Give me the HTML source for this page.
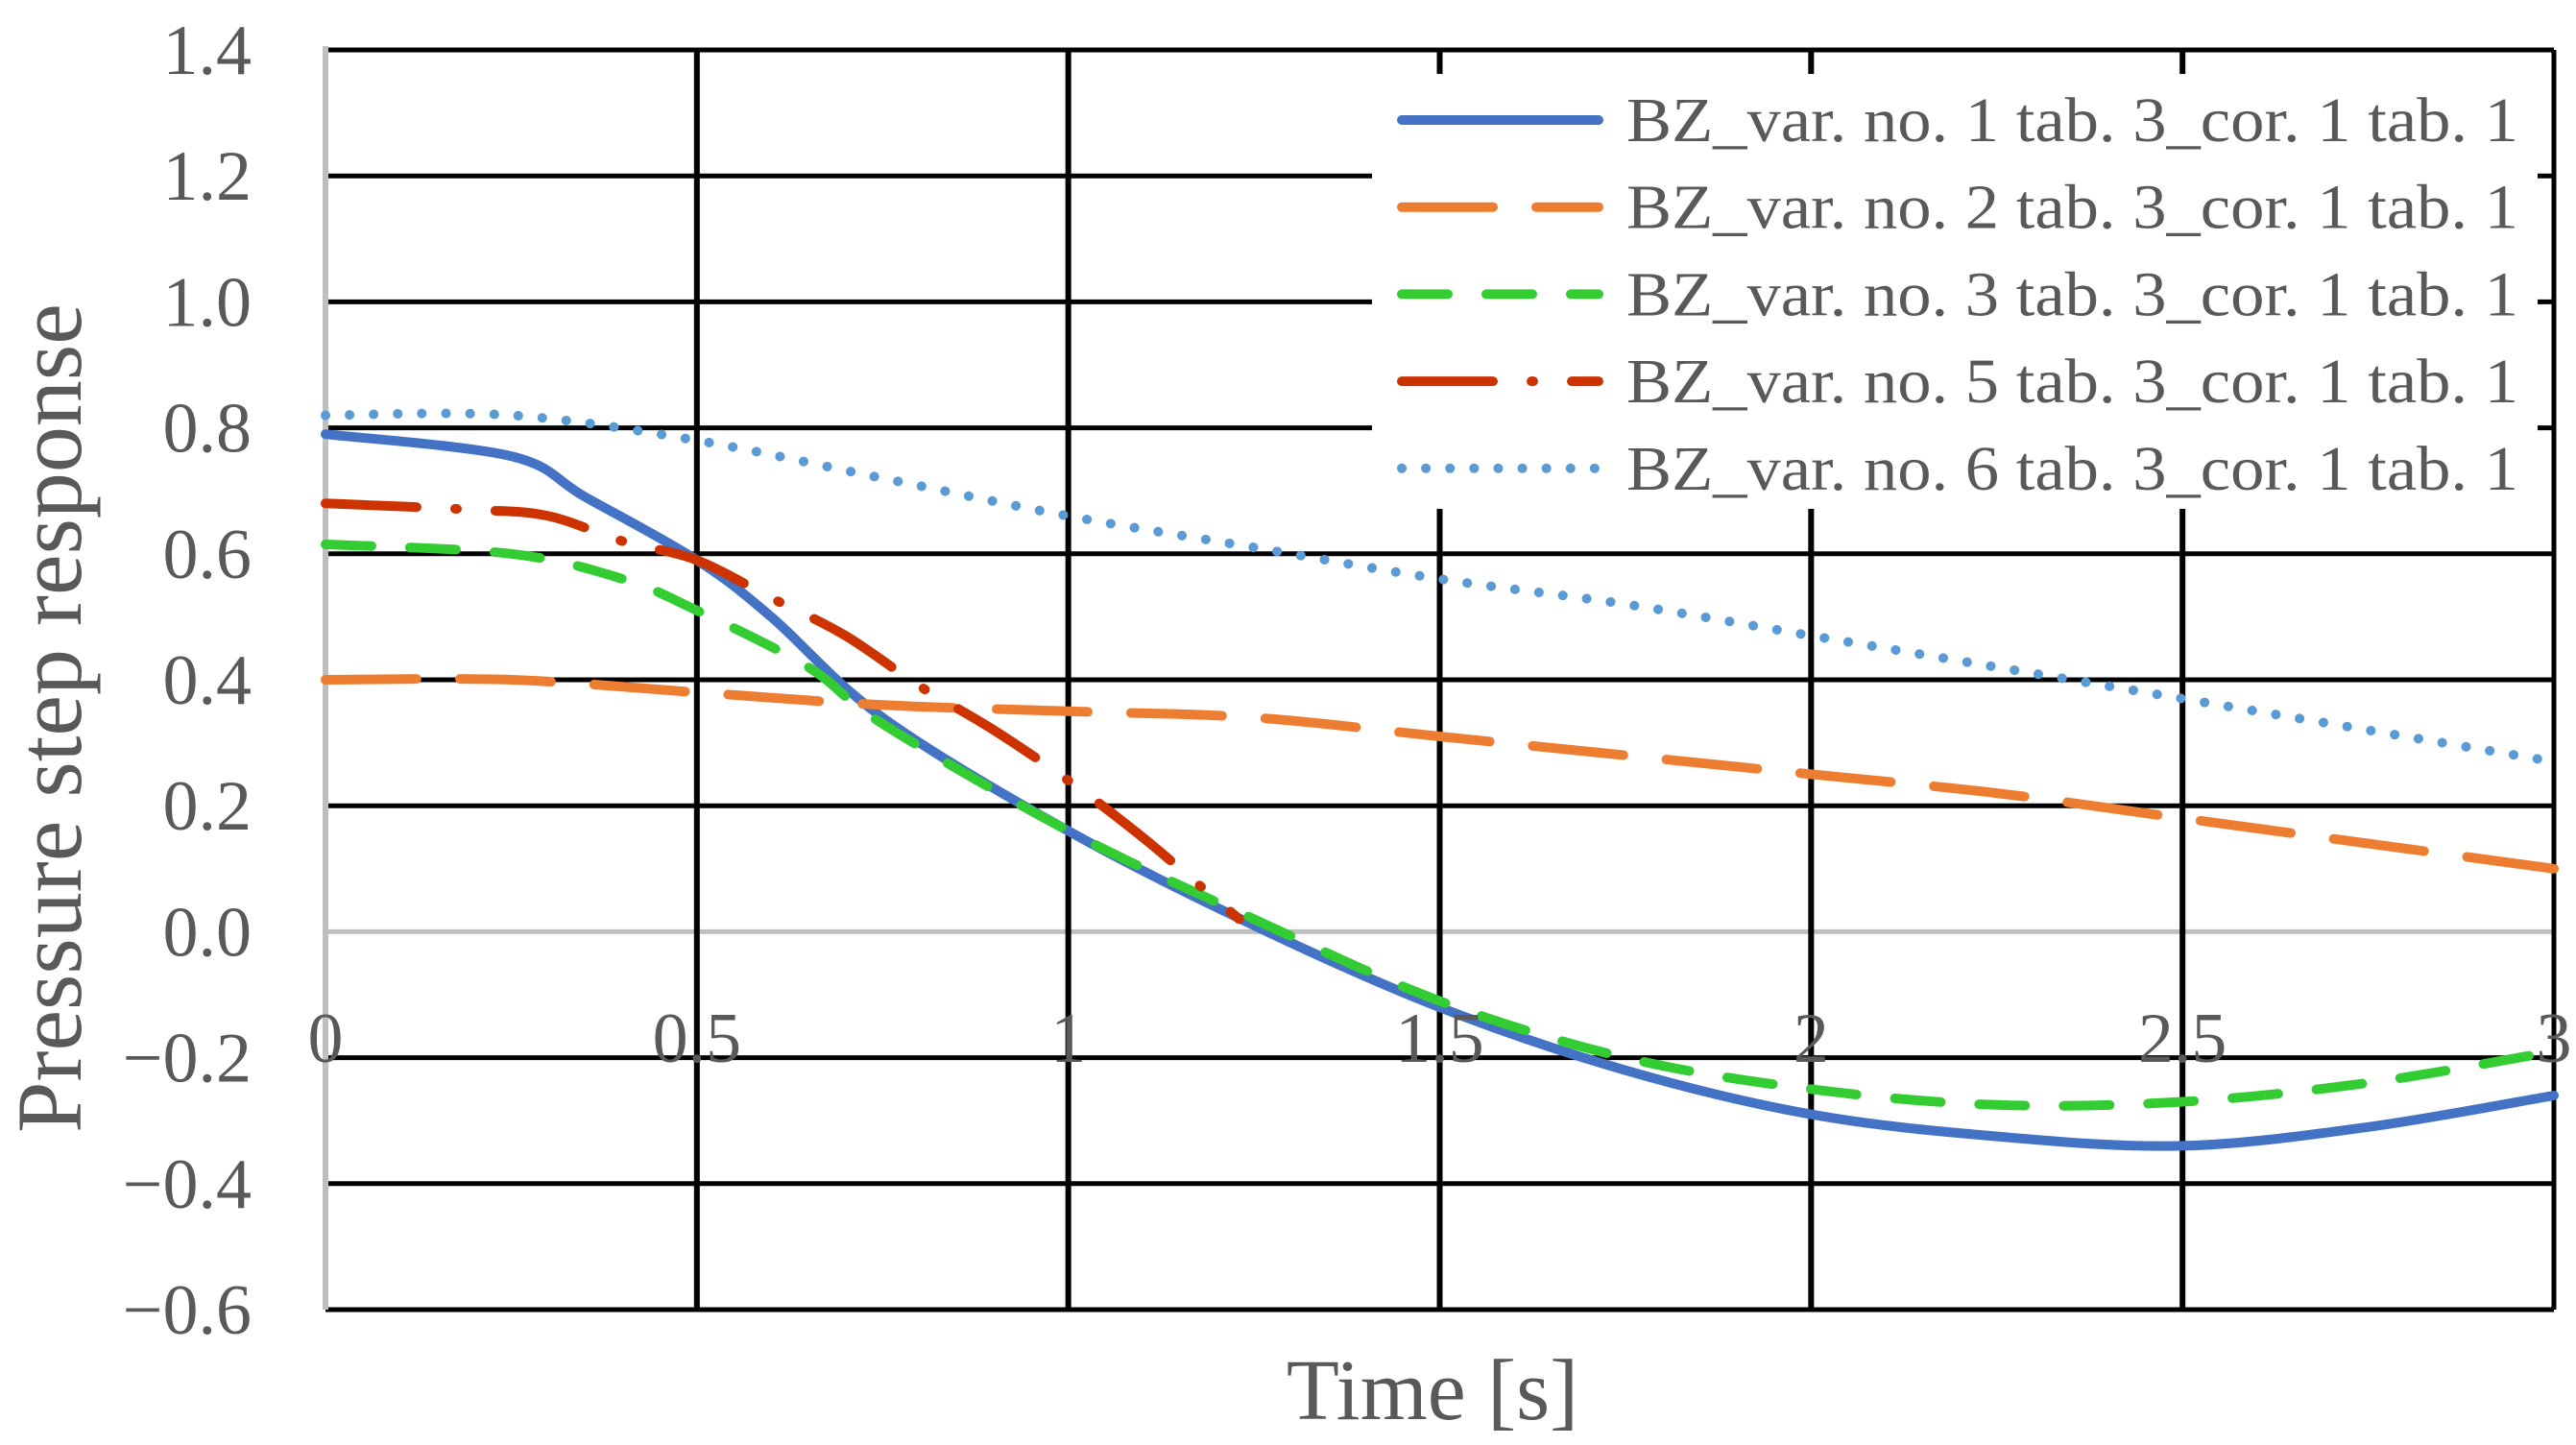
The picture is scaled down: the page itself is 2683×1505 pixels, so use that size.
<!DOCTYPE html>
<html><head><meta charset="utf-8"><style>
html,body{margin:0;padding:0;background:#fff}
svg{display:block}
text{font-family:"Liberation Serif",serif;fill:#595959}
</style></head><body>
<svg id="chart" width="2683" height="1505" viewBox="0 0 2683 1505" xmlns="http://www.w3.org/2000/svg">
<g id="grid"></g>
<g id="series"></g>
<g id="ticks"></g>
<text x="1492" y="1478" font-size="90" text-anchor="middle">Time [s]</text>
<text transform="translate(84,748) rotate(-90)" font-size="96" text-anchor="middle">Pressure step response</text>
<g id="legend"></g>
</svg>
<script>
const xTicks=[0,0.5,1,1.5,2,2.5,3];
const xTickLabels=["0","0.5","1","1.5","2","2.5","3"];
const yTicks=[1.4,1.2,1.0,0.8,0.6,0.4,0.2,0.0,-0.2,-0.4,-0.6];
const yTickLabels=["1.4","1.2","1.0","0.8","0.6","0.4","0.2","0.0","\u22120.2","\u22120.4","\u22120.6"];
const seriesNames=["BZ_var. no. 1 tab. 3_cor. 1 tab. 1","BZ_var. no. 2 tab. 3_cor. 1 tab. 1","BZ_var. no. 3 tab. 3_cor. 1 tab. 1","BZ_var. no. 5 tab. 3_cor. 1 tab. 1","BZ_var. no. 6 tab. 3_cor. 1 tab. 1"];
const t1=[0,0.25,0.35,0.5,0.6,0.75,1,1.25,1.5,1.75,2,2.25,2.5,2.75,3];
const v1=[0.79,0.755,0.69,0.59,0.50,0.34,0.16,0.01,-0.12,-0.22,-0.29,-0.325,-0.34,-0.31,-0.26];
const t2=[0,0.25,0.5,0.75,1,1.25,1.5,1.75,2,2.25,2.5,2.75,3];
const v2=[0.40,0.40,0.38,0.36,0.35,0.34,0.31,0.28,0.25,0.22,0.18,0.14,0.10];
const t3=[0,0.25,0.4,0.5,0.65,0.75,1,1.25,1.5,1.75,2,2.25,2.5,2.75,3];
const v3=[0.615,0.60,0.56,0.51,0.42,0.33,0.16,0.02,-0.11,-0.20,-0.25,-0.275,-0.27,-0.24,-0.19];
const t5=[0,0.2,0.3,0.4,0.5,0.6,0.7,0.8,0.9,1,1.1,1.2,1.23];
const v5=[0.68,0.67,0.66,0.62,0.59,0.53,0.47,0.39,0.32,0.24,0.15,0.05,0.02];
const t6=[0,0.25,0.5,0.75,1,1.25,1.5,1.75,2,2.25,2.5,2.75,3];
const v6=[0.82,0.82,0.78,0.72,0.66,0.61,0.56,0.52,0.47,0.42,0.37,0.32,0.27];

const NS="http://www.w3.org/2000/svg";
const X0=339,X1=2660,Y0=52,Y1=1364;
function xs(v){return X0+(v-0)/3*(X1-X0);}
function ys(v){return Y0+(1.4-v)/2.0*(Y1-Y0);}
function mk(tag,attrs,parent){const e=document.createElementNS(NS,tag);for(const k in attrs)e.setAttribute(k,attrs[k]);parent.appendChild(e);return e;}
function smooth(P){let d='M'+P[0][0].toFixed(1)+','+P[0][1].toFixed(1);
  for(let i=0;i<P.length-1;i++){const p0=P[i-1]||P[i],p1=P[i],p2=P[i+1],p3=P[i+2]||P[i+1];
    const c1=[p1[0]+(p2[0]-p0[0])/6,p1[1]+(p2[1]-p0[1])/6],c2=[p2[0]-(p3[0]-p1[0])/6,p2[1]-(p3[1]-p1[1])/6];
    d+=' C'+c1[0].toFixed(1)+','+c1[1].toFixed(1)+' '+c2[0].toFixed(1)+','+c2[1].toFixed(1)+' '+p2[0].toFixed(1)+','+p2[1].toFixed(1);}
  return d;}
const grid=document.getElementById('grid'),ser=document.getElementById('series'),tk=document.getElementById('ticks'),lg=document.getElementById('legend');
yTicks.forEach((v,i)=>{
  const l=mk('line',{x1:X0,x2:X1,y1:ys(v),y2:ys(v),stroke:v===0?'#bfbfbf':'#000','stroke-width':5},grid);
  
  
  const t=mk('text',{x:262,y:ys(v)+25,'font-size':74,'text-anchor':'end'},tk);
  t.textContent=yTickLabels[i];
  
  
});
xTicks.forEach((v,i)=>{
  if(v>0){const l=mk('line',{x1:xs(v),x2:xs(v),y1:Y0,y2:Y1,stroke:'#000','stroke-width':v===3?5:6},grid);
  
  }
  const t=mk('text',{x:xs(v),y:1106,'font-size':74,'text-anchor':'middle'},tk);
  t.textContent=xTickLabels[i];
  
  
});
const ax=mk('line',{x1:X0,x2:X0,y1:Y0-4,y2:Y1,stroke:'#bfbfbf','stroke-width':6},grid);


const styles=[
 {c:'#4472c4',d:'',w:10,cap:'round'},
 {c:'#ed7d31',d:'95 45',w:10,cap:'round'},
 {c:'#33cc33',d:'48 40',w:10,cap:'round'},
 {c:'#cc3300',d:'95 40 2 40',w:10,cap:'round'},
 {c:'#5b9bd5',d:'0.1 25',w:10,cap:'round'}];
const T=[t1,t2,t3,t5,t6],V=[v1,v2,v3,v5,v6];
const lb=mk('rect',{x:1429,y:77,width:1214,height:453,fill:'#fff'},lg);


T.forEach((tt,i)=>{
  const P=tt.map((t,j)=>[xs(t),ys(V[i][j])]);
  const s=styles[i];
  const p=mk('path',{d:smooth(P),fill:'none',stroke:s.c,'stroke-width':s.w,'stroke-linecap':s.cap,'stroke-linejoin':'round','stroke-dasharray':s.d},ser);
  
  
  const ry=125+i*90.7;
  const ll=mk('line',{x1:1460,x2:1665,y1:ry,y2:ry,stroke:s.c,'stroke-width':s.w,'stroke-linecap':s.cap,'stroke-dasharray':s.d},lg);
  
  
  const lt=mk('text',{x:1694,y:ry+22,'font-size':66,textLength:929,lengthAdjust:'spacingAndGlyphs'},lg);
  lt.textContent=seriesNames[i];
  
  
});
</script>
</body></html>
